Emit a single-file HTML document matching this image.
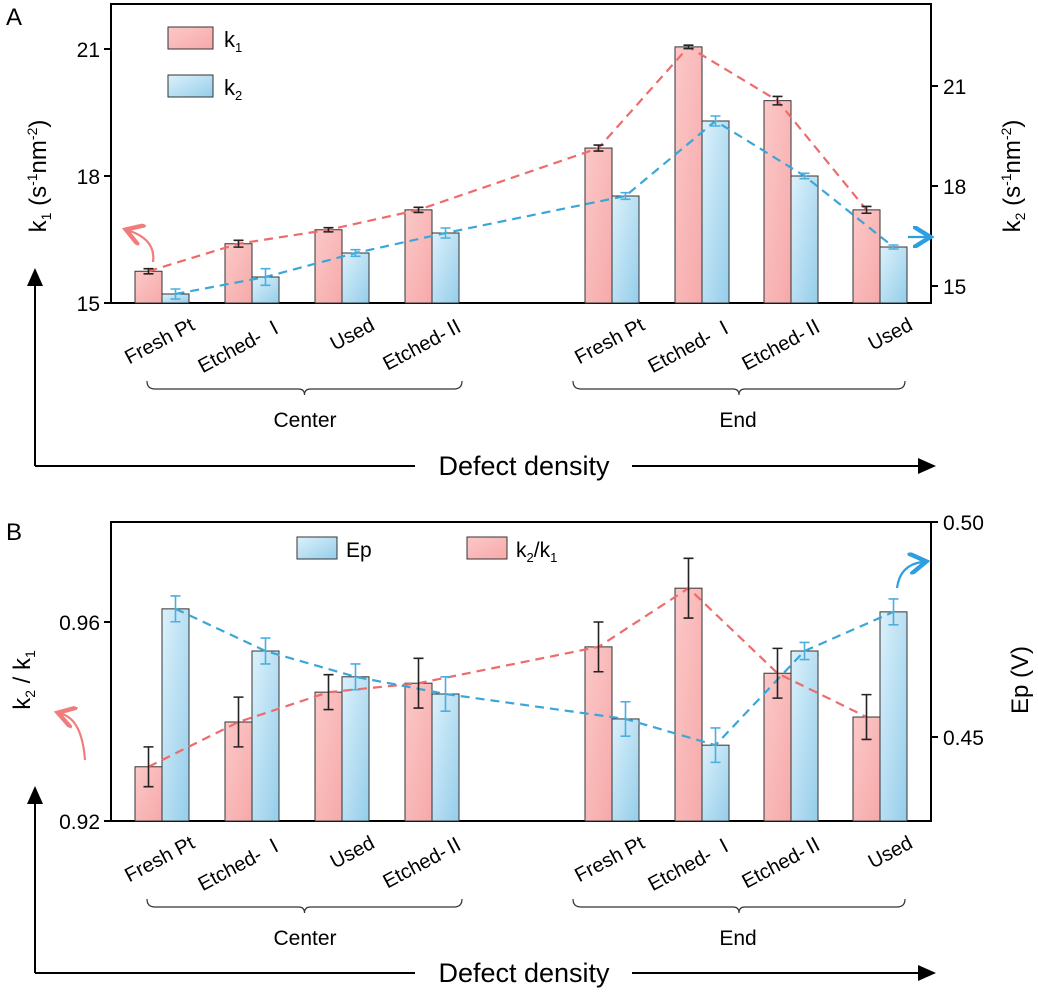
<!DOCTYPE html>
<html><head><meta charset="utf-8"><style>
body{margin:0;background:#fff;}
svg{display:block;font-family:"Liberation Sans","Noto Sans CJK SC",Arial,sans-serif;}
</style></head><body>
<svg id="c" width="1038" height="994" viewBox="0 0 1038 994">
<defs>
<linearGradient id="gp" x1="0" y1="0" x2="1" y2="1"><stop offset="0" stop-color="#fcc8c8"/><stop offset="1" stop-color="#f6a9a9"/></linearGradient>
<linearGradient id="gb" x1="0" y1="0" x2="1" y2="1"><stop offset="0" stop-color="#dcf1fb"/><stop offset="1" stop-color="#94cdea"/></linearGradient>
<marker id="ah" markerWidth="10" markerHeight="10" refX="8" refY="5" orient="auto"><path d="M0,1 L9,5 L0,9 z" fill="#000"/></marker>
</defs>
<g id="root"></g>
</svg>
<script>
const categories=["Fresh Pt","Etched- Ⅰ","Used","Etched-Ⅱ","Fresh Pt","Etched- Ⅰ","Etched-Ⅱ","Used"];
const k1=[15.75,16.4,16.73,17.2,18.66,21.05,19.78,17.2];
const k1Err=[0.06,0.08,0.05,0.06,0.07,0.04,0.1,0.08];
const k2=[14.76,15.27,15.99,16.59,17.7,19.95,18.3,16.17];
const k2Err=[0.15,0.25,0.1,0.15,0.1,0.15,0.08,0.06];
const ratio=[0.9309,0.9399,0.9459,0.9477,0.955,0.9668,0.9497,0.9409];
const ratioErr=[0.004,0.005,0.0035,0.005,0.005,0.006,0.005,0.0045];
const ep=[0.4798,0.47,0.464,0.46,0.4542,0.4481,0.47,0.4791];
const epErr=[0.003,0.003,0.003,0.004,0.004,0.004,0.002,0.003];
const ticksA=[15,18,21];
const ticksB=[0.92,0.96];
const ticksBR=[0.45,0.50];

const NS="http://www.w3.org/2000/svg";
const root=document.getElementById('root');
function el(tag,attrs,parent,text){const e=document.createElementNS(NS,tag);for(const k in attrs)e.setAttribute(k,attrs[k]);if(text!==undefined)e.textContent=text;(parent||root).appendChild(e);return e;}
const centers=[162,252,342,432,612,702,791,880];
const bw=27;

function panel(off,axisY,leftY,rightY,left,leftErr,right,rightErr,leftTicks,rightTicks,fmtL,fmtR){
  const g=el('g',{});
  
  
  const top=4+off,bot=303+off;
  const fr=el('rect',{x:111,y:top,width:820,height:bot-top,fill:'none',stroke:'#000','stroke-width':2},g);
  
  leftTicks.forEach(t=>{const y=leftY(t);
    el('line',{x1:104,x2:111,y1:y,y2:y,stroke:'#000','stroke-width':2},g);
    const tx=el('text',{x:100,y:y+8,'text-anchor':'end','font-size':21},g,fmtL(t));
    });
  rightTicks.forEach(t=>{const y=rightY(t);
    el('line',{x1:931,x2:938,y1:y,y2:y,stroke:'#000','stroke-width':2},g);
    const tx=el('text',{x:943,y:y+8,'font-size':21},g,fmtR(t));
    });
  const lc='#ef6b6b', bc='#3ba6d8';
  const pPts=[],bPts=[];
  categories.forEach((c,i)=>{
    const cx=centers[i];
    const yp=leftY(left[i]), yb=rightY(right[i]);
    const r1=el('rect',{x:cx-bw,y:yp,width:bw,height:bot-yp,fill:'url(#gp)',stroke:'#333','stroke-width':1},g);
    
    const r2=el('rect',{x:cx,y:yb,width:bw,height:bot-yb,fill:'url(#gb)',stroke:'#333','stroke-width':1},g);
    
    pPts.push([cx-bw/2,yp]);bPts.push([cx+bw/2,yb]);
  });
  const pl=el('polyline',{points:pPts.map(p=>p.join(',')).join(' '),fill:'none',stroke:lc,'stroke-width':2.2,'stroke-dasharray':'9,6'},g);
  
  const bl=el('polyline',{points:bPts.map(p=>p.join(',')).join(' '),fill:'none',stroke:bc,'stroke-width':2.2,'stroke-dasharray':'9,6'},g);
  
  function err(x,v,e,f,col){const y1=f(v+e),y2=f(v-e);
    const eb=el('path',{d:`M${x-5},${y1}H${x+5}M${x},${y1}V${y2}M${x-5},${y2}H${x+5}`,stroke:col,'stroke-width':1.6,fill:'none'},g);
    }
  categories.forEach((c,i)=>{err(centers[i]-bw/2,left[i],leftErr[i],leftY,'#222');err(centers[i]+bw/2,right[i],rightErr[i],rightY,'#4aaee0');});
  categories.forEach((c,i)=>{const x=centers[i]+34,y=bot+26;
    const t=el('text',{x:x,y:y,'text-anchor':'end','font-size':20,transform:`rotate(-28 ${x} ${y})`},g,c);
    });
  [[147,462,305,'Center'],[573,905,738,'End']].forEach(b=>{
    const y=off+381;
    el('path',{d:`M${b[0]},${y}q0,8 8,8H${(b[0]+b[1])/2-6}q6,0 6,6q0,-6 6,-6H${b[1]-8}q8,0 8,-8`,fill:'none',stroke:'#333','stroke-width':1.2},g);
    const t=el('text',{x:b[2],y:off+427,'text-anchor':'middle','font-size':21},g,b[3]);
    });
  const ay=axisY;
  el('line',{x1:35,y1:ay,x2:35,y2:off+270,stroke:'#000','stroke-width':2,'marker-end':'url(#ah)'},g);
  el('line',{x1:35,y1:ay,x2:415,y2:ay,stroke:'#000','stroke-width':2},g);
  el('line',{x1:632,y1:ay,x2:934,y2:ay,stroke:'#000','stroke-width':2,'marker-end':'url(#ah)'},g);
  const dt=el('text',{x:524,y:ay+9,'text-anchor':'middle','font-size':27},g,'Defect density');
  
  return g;
}

const yA=v=>303-(v-15)*(127/3);
const yA2=v=>286-(v-15)*(100/3);
panel(0,466,yA,yA2,k1,k1Err,k2,k2Err,ticksA,ticksA,t=>String(t),t=>String(t));
const off=518;
const yBl=v=>821-(v-0.92)*(199/0.04);
const yBr=v=>737-(v-0.45)*(215/0.05);
panel(off,973,yBl,yBr,ratio,ratioErr,ep,epErr,ticksB,ticksBR,t=>t.toFixed(2),t=>t.toFixed(2));
</script>
<svg style="position:absolute;left:0;top:0" width="1038" height="994">
<defs>
<marker id="ap" markerWidth="10" markerHeight="10" refX="6" refY="5" orient="auto"><path d="M0,0 L8,5 L0,10" fill="none" stroke="#f27b7b" stroke-width="2"/></marker>
<marker id="ab" markerWidth="10" markerHeight="10" refX="6" refY="5" orient="auto"><path d="M0,0 L8,5 L0,10" fill="none" stroke="#2b9fe0" stroke-width="2"/></marker>
</defs>
<text x="6" y="25" font-size="24" font-family="Liberation Sans">A</text>
<text x="6" y="540" font-size="24" font-family="Liberation Sans">B</text>
<rect x="168" y="27" width="45" height="22" fill="url(#gp)" stroke="#333"/>
<text x="224" y="47" font-size="22" font-family="Liberation Sans">k<tspan font-size="13" dy="5">1</tspan></text>
<rect x="168" y="75" width="45" height="22" fill="url(#gb)" stroke="#333"/>
<text x="224" y="95" font-size="22" font-family="Liberation Sans">k<tspan font-size="13" dy="5">2</tspan></text>
<rect x="297" y="537" width="40" height="22" fill="url(#gb)" stroke="#333"/>
<text x="346" y="557" font-size="21" font-family="Liberation Sans">Ep</text>
<rect x="467" y="537" width="40" height="22" fill="url(#gp)" stroke="#333"/>
<text x="516" y="557" font-size="21" font-family="Liberation Sans">k<tspan font-size="13" dy="5">2</tspan><tspan dy="-5">/k</tspan><tspan font-size="13" dy="5">1</tspan></text>
<text transform="translate(46,176) rotate(-90)" text-anchor="middle" font-size="24" font-family="Liberation Sans">k<tspan font-size="14" dy="5">1</tspan><tspan dy="-5"> (s</tspan><tspan font-size="14" dy="-9">-1</tspan><tspan dy="9">nm</tspan><tspan font-size="14" dy="-9">-2</tspan><tspan dy="9">)</tspan></text>
<text transform="translate(1020,176) rotate(-90)" text-anchor="middle" font-size="24" font-family="Liberation Sans">k<tspan font-size="14" dy="5">2</tspan><tspan dy="-5"> (s</tspan><tspan font-size="14" dy="-9">-1</tspan><tspan dy="9">nm</tspan><tspan font-size="14" dy="-9">-2</tspan><tspan dy="9">)</tspan></text>
<text transform="translate(30,680) rotate(-90)" text-anchor="middle" font-size="24" font-family="Liberation Sans">k<tspan font-size="14" dy="5">2</tspan><tspan dy="-5"> / k</tspan><tspan font-size="14" dy="5">1</tspan></text>
<text transform="translate(1028,680) rotate(-90)" text-anchor="middle" font-size="24" font-family="Liberation Sans">Ep (V)</text>
<path d="M153,262 Q156,240 130,231" fill="none" stroke="#f27b7b" stroke-width="2.2" marker-end="url(#ap)"/>
<path d="M908,237 H926" fill="none" stroke="#2b9fe0" stroke-width="2.2" marker-end="url(#ab)"/>
<path d="M85,760 Q82,720 62,714" fill="none" stroke="#f27b7b" stroke-width="2.2" marker-end="url(#ap)"/>
<path d="M897,588 Q900,565 922,562" fill="none" stroke="#2b9fe0" stroke-width="2.2" marker-end="url(#ab)"/>
</svg>
</body></html>
